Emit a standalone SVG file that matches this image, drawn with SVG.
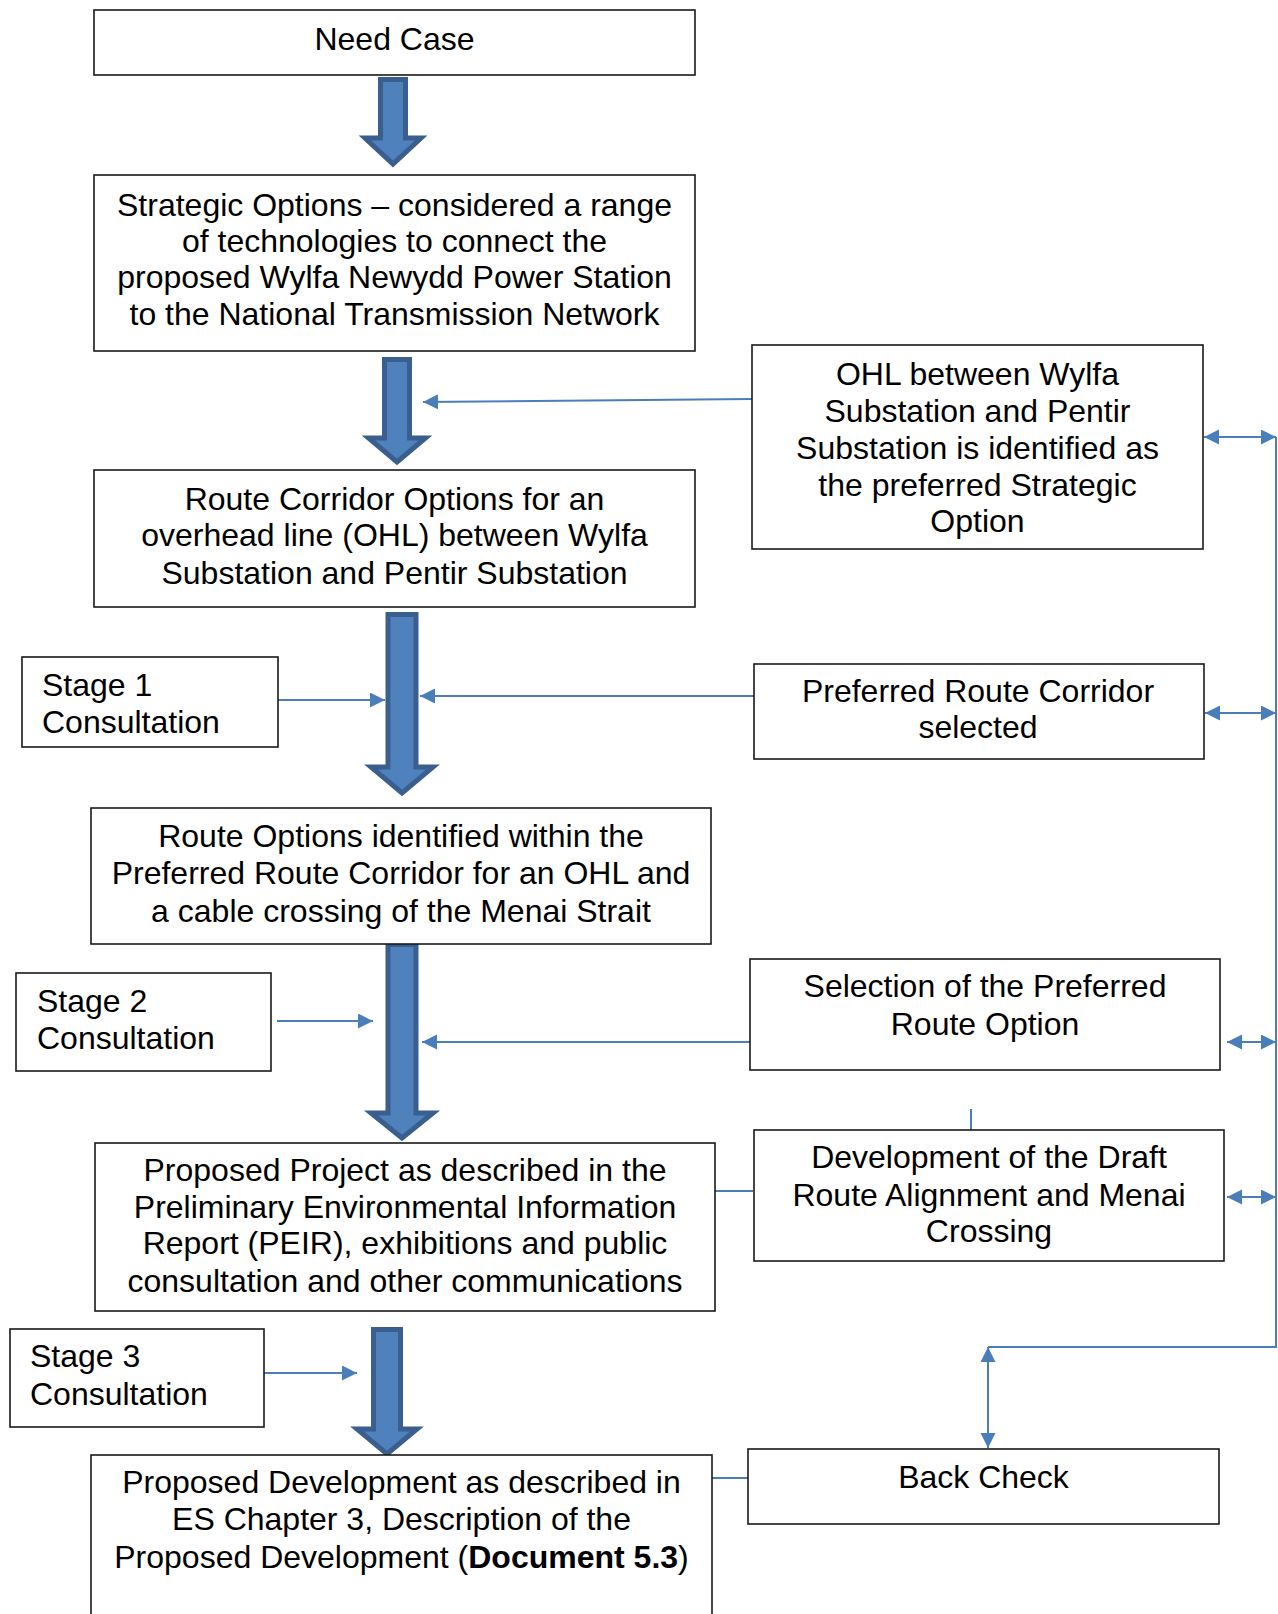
<svg xmlns="http://www.w3.org/2000/svg" width="1278" height="1614" viewBox="0 0 1278 1614">
<style>
.box{fill:#fff;stroke:#1a1a1a;stroke-width:1.6}
.t{font-family:"Liberation Sans",Arial,sans-serif;font-size:32px;fill:#000}
.c{text-anchor:middle}
.big{fill:#4F81BD;stroke:#3A5F8E;stroke-width:5;stroke-linejoin:miter}
.ln{fill:none;stroke:#4A7EBB;stroke-width:2}
</style>
<defs>
<marker id="ah" markerUnits="userSpaceOnUse" markerWidth="16" markerHeight="16" refX="15" refY="7.5" orient="auto-start-reverse">
<path d="M0,0 L15,7.5 L0,15 z" fill="#4A7EBB"/>
</marker>
</defs>
<rect width="1278" height="1614" fill="#fff"/>

<g id="bigarrows">
<path class="big" d="M380.5,79.5 H405.5 V138 H421 L393,164 L365,138 H380.5 Z"/>
<path class="big" d="M384.5,359.5 H409.5 V438 H425.5 L397,462 L368.5,438 H384.5 Z"/>
<path class="big" d="M388,614.5 H416 V767 H433 L402,793 L371,767 H388 Z"/>
<path class="big" d="M388,944.5 H416 V1113 H433 L402,1138 L371,1113 H388 Z"/>
<path class="big" d="M373.5,1329.5 H400.5 V1429 H417 L387,1454 L357,1429 H373.5 Z"/>
</g>

<g id="connectors">
<path class="ln" d="M752,399 L423,402" marker-end="url(#ah)"/>
<path class="ln" d="M278,700 H385" marker-end="url(#ah)"/>
<path class="ln" d="M757,696 H420" marker-end="url(#ah)"/>
<path class="ln" d="M277,1021 H373" marker-end="url(#ah)"/>
<path class="ln" d="M751,1042 H422" marker-end="url(#ah)"/>
<path class="ln" d="M971,1109 V1130"/>
<path class="ln" d="M715,1191 H753"/>
<path class="ln" d="M264,1373 H357" marker-end="url(#ah)"/>
<path class="ln" d="M712,1478 H748"/>
<path class="ln" d="M1204,437 H1276" marker-start="url(#ah)" marker-end="url(#ah)"/>
<path class="ln" d="M1205,713 H1276" marker-start="url(#ah)" marker-end="url(#ah)"/>
<path class="ln" d="M1227,1042 H1276" marker-start="url(#ah)" marker-end="url(#ah)"/>
<path class="ln" d="M1227,1197 H1276" marker-start="url(#ah)" marker-end="url(#ah)"/>
<path class="ln" d="M1276,437 V1347 H988"/>
<path class="ln" d="M988,1347 V1448" marker-start="url(#ah)" marker-end="url(#ah)"/>
</g>

<g id="need-case">
<rect class="box" x="94" y="10" width="601" height="65"/>
<text class="t c" x="394.5" y="50">Need Case</text>
</g>

<g id="strategic-options">
<rect class="box" x="94" y="175" width="601" height="176"/>
<text class="t c" x="394.5" y="216">Strategic Options – considered a range</text>
<text class="t c" x="394.5" y="252">of technologies to connect the</text>
<text class="t c" x="394.5" y="288">proposed Wylfa Newydd Power Station</text>
<text class="t c" x="394.5" y="325">to the National Transmission Network</text>
</g>

<g id="ohl-preferred">
<rect class="box" x="752" y="345" width="451" height="204"/>
<text class="t c" x="977.5" y="385">OHL between Wylfa</text>
<text class="t c" x="977.5" y="422">Substation and Pentir</text>
<text class="t c" x="977.5" y="459">Substation is identified as</text>
<text class="t c" x="977.5" y="496">the preferred Strategic</text>
<text class="t c" x="977.5" y="532">Option</text>
</g>

<g id="route-corridor-options">
<rect class="box" x="94" y="470" width="601" height="137"/>
<text class="t c" x="394.5" y="510">Route Corridor Options for an</text>
<text class="t c" x="394.5" y="546">overhead line (OHL) between Wylfa</text>
<text class="t c" x="394.5" y="584">Substation and Pentir Substation</text>
</g>

<g id="stage1">
<rect class="box" x="22" y="657" width="256" height="90"/>
<text class="t" x="42" y="696">Stage 1</text>
<text class="t" x="42" y="733">Consultation</text>
</g>

<g id="preferred-route-corridor">
<rect class="box" x="754" y="664" width="450" height="95"/>
<text class="t c" x="978" y="702">Preferred Route Corridor</text>
<text class="t c" x="978" y="738">selected</text>
</g>

<g id="route-options">
<rect class="box" x="91" y="808" width="620" height="136"/>
<text class="t c" x="401" y="847">Route Options identified within the</text>
<text class="t c" x="401" y="884">Preferred Route Corridor for an OHL and</text>
<text class="t c" x="401" y="922">a cable crossing of the Menai Strait</text>
</g>

<g id="stage2">
<rect class="box" x="16" y="973" width="255" height="98"/>
<text class="t" x="37" y="1012">Stage 2</text>
<text class="t" x="37" y="1049">Consultation</text>
</g>

<g id="selection-preferred-route">
<rect class="box" x="750" y="959" width="470" height="111"/>
<text class="t c" x="985" y="997">Selection of the Preferred</text>
<text class="t c" x="985" y="1035">Route Option</text>
</g>

<g id="development-draft">
<rect class="box" x="754" y="1130" width="470" height="131"/>
<text class="t c" x="989" y="1168">Development of the Draft</text>
<text class="t c" x="989" y="1206">Route Alignment and Menai</text>
<text class="t c" x="989" y="1242">Crossing</text>
</g>

<g id="proposed-project">
<rect class="box" x="95" y="1143" width="620" height="168"/>
<text class="t c" x="405" y="1181">Proposed Project as described in the</text>
<text class="t c" x="405" y="1218">Preliminary Environmental Information</text>
<text class="t c" x="405" y="1254">Report (PEIR), exhibitions and public</text>
<text class="t c" x="405" y="1292">consultation and other communications</text>
</g>

<g id="stage3">
<rect class="box" x="10" y="1329" width="254" height="98"/>
<text class="t" x="30" y="1367">Stage 3</text>
<text class="t" x="30" y="1405">Consultation</text>
</g>

<g id="back-check">
<rect class="box" x="748" y="1449" width="471" height="75"/>
<text class="t c" x="983.5" y="1488">Back Check</text>
</g>

<g id="proposed-development">
<rect class="box" x="91" y="1455" width="621" height="200"/>
<text class="t c" x="401.5" y="1493">Proposed Development as described in</text>
<text class="t c" x="401.5" y="1530">ES Chapter 3, Description of the</text>
<text class="t c" x="401.5" y="1568">Proposed Development (<tspan font-weight="bold">Document 5.3</tspan>)</text>
</g>
</svg>
